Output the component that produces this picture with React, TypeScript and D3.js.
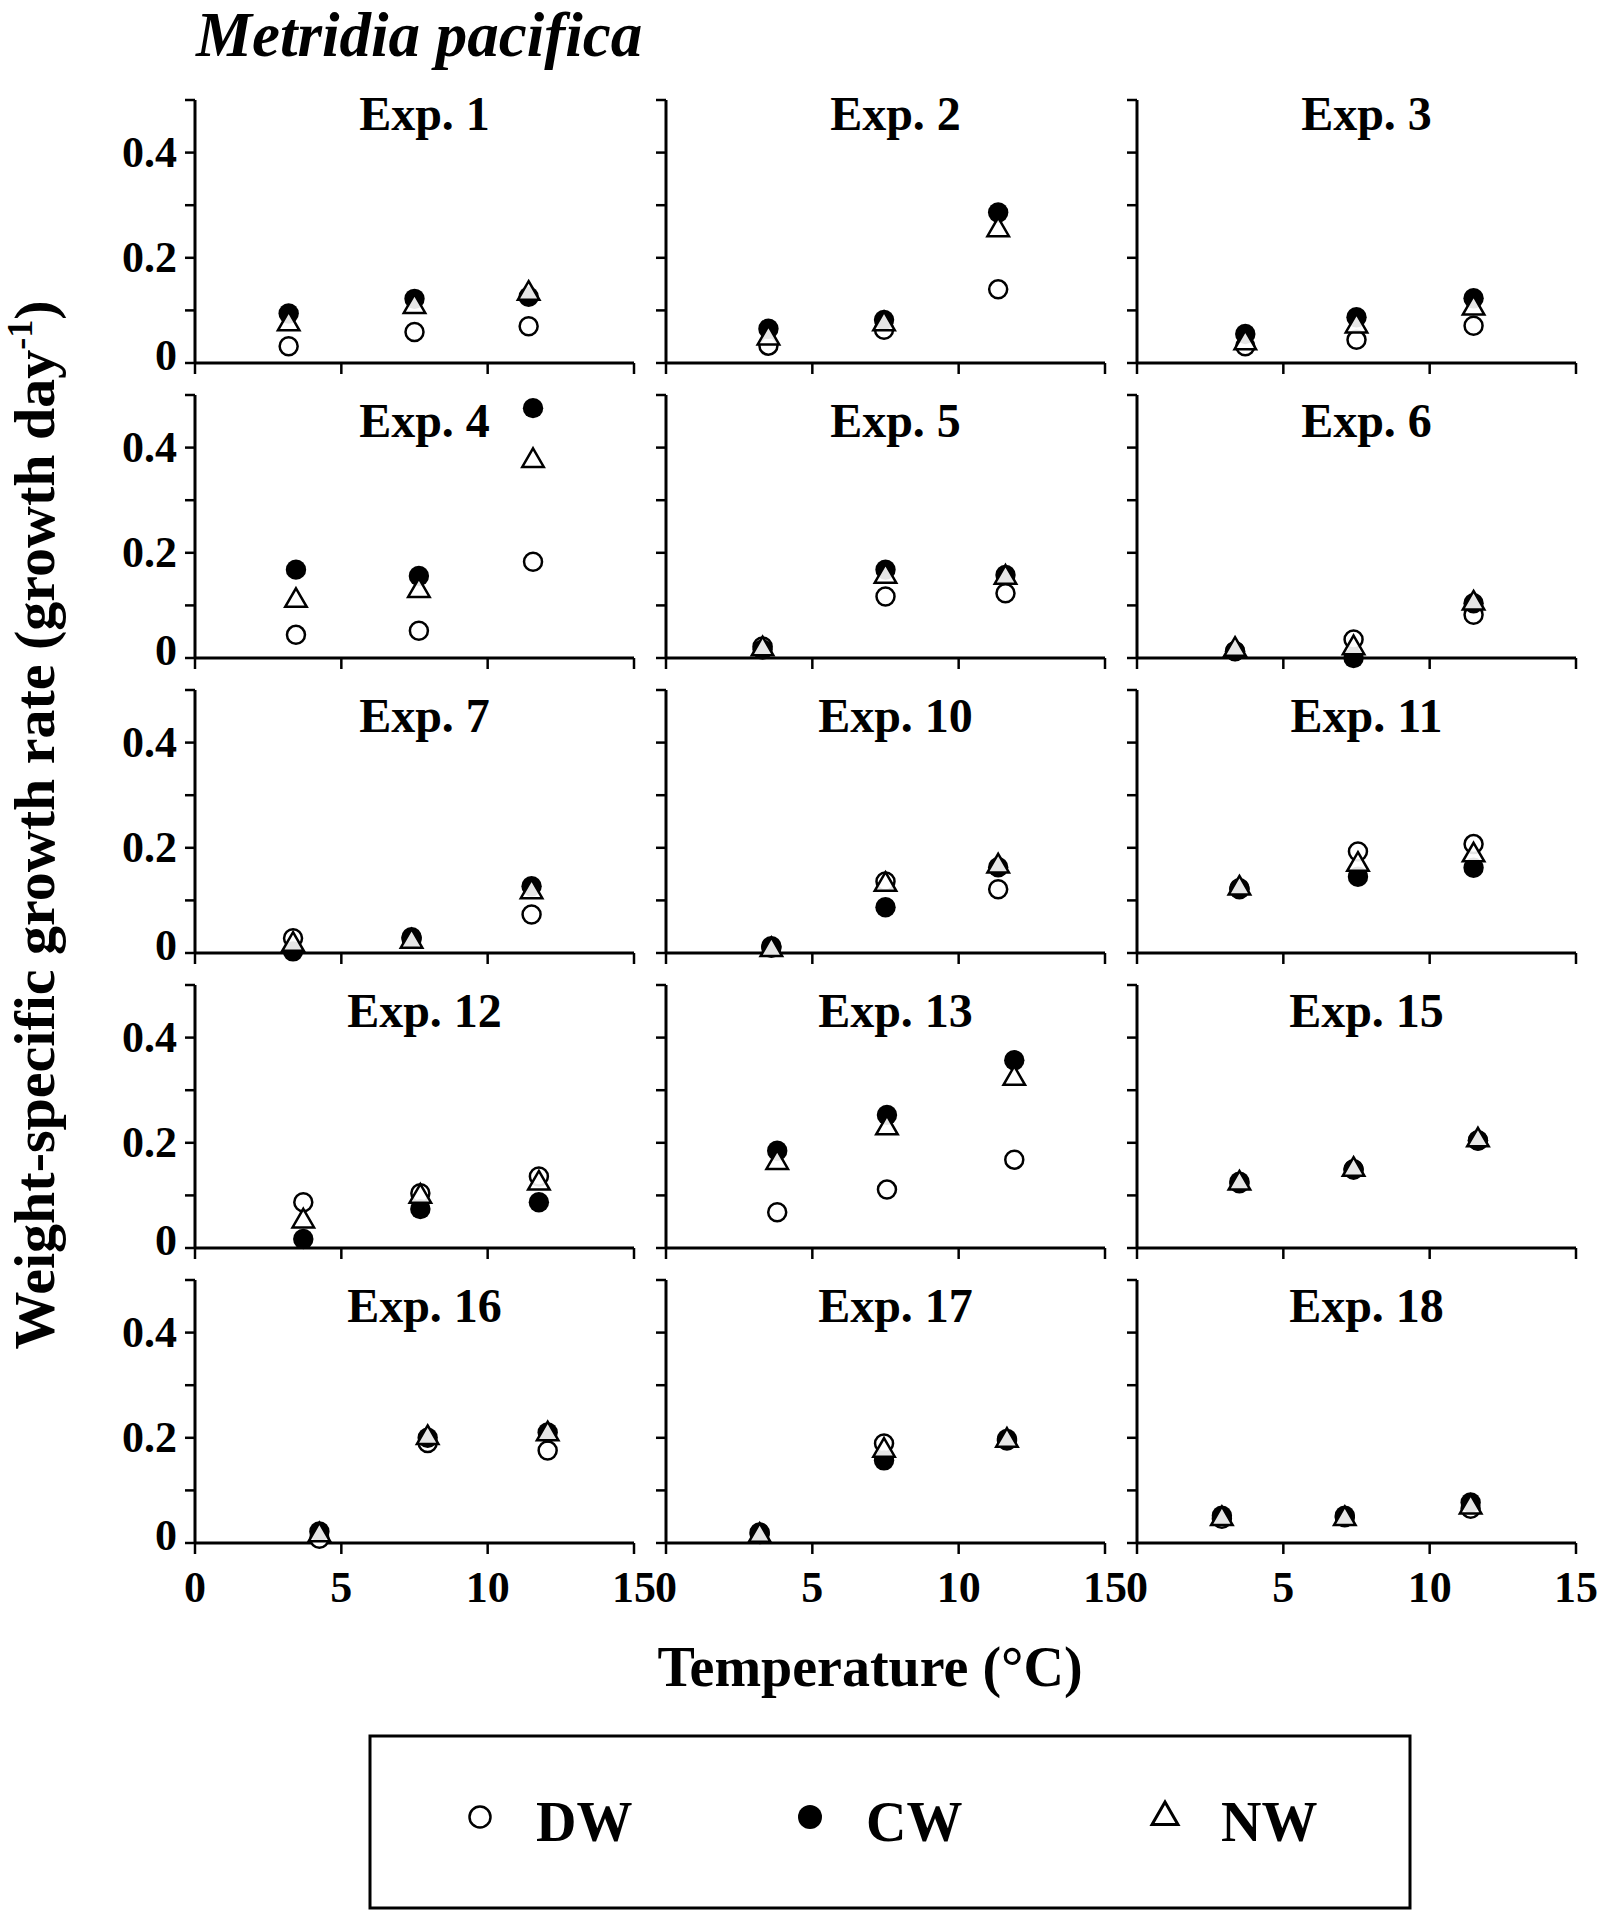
import React from "react"
import * as d3 from "d3"

const species = "Metridia pacifica"

const experiments = [
  "Exp. 1", "Exp. 2", "Exp. 3",
  "Exp. 4", "Exp. 5", "Exp. 6",
  "Exp. 7", "Exp. 10", "Exp. 11",
  "Exp. 12", "Exp. 13", "Exp. 15",
  "Exp. 16", "Exp. 17", "Exp. 18",
]

// temperature (°C) of each treatment, per experiment
const temperature = [
  [3.2, 7.5, 11.4], [3.5, 7.45, 11.35], [3.7, 7.5, 11.5],
  [3.45, 7.65, 11.55], [3.3, 7.5, 11.6], [3.35, 7.4, 11.5],
  [3.35, 7.4, 11.5], [3.6, 7.5, 11.35], [3.5, 7.55, 11.5],
  [3.7, 7.7, 11.75], [3.8, 7.55, 11.9], [3.5, 7.4, 11.65],
  [4.25, 7.95, 12.05], [3.2, 7.45, 11.65], [2.9, 7.1, 11.4],
]

const dw = [
  [0.032, 0.059, 0.07], [0.033, 0.063, 0.14], [0.032, 0.044, 0.071],
  [0.044, 0.052, 0.183], [0.022, 0.117, 0.123], [0.013, 0.035, 0.082],
  [0.028, 0.027, 0.073], [0.01, 0.136, 0.121], [0.123, 0.193, 0.207],
  [0.087, 0.104, 0.136], [0.068, 0.111, 0.168], [0.123, 0.149, 0.204],
  [0.008, 0.19, 0.176], [0.02, 0.189, 0.195], [0.046, 0.049, 0.065],
]

const cw = [
  [0.094, 0.122, 0.126], [0.065, 0.082, 0.286], [0.055, 0.087, 0.123],
  [0.168, 0.156, 0.475], [0.016, 0.168, 0.158], [0.013, 0.0, 0.104],
  [0.003, 0.03, 0.127], [0.013, 0.087, 0.163], [0.121, 0.145, 0.162],
  [0.017, 0.074, 0.087], [0.185, 0.253, 0.357], [0.126, 0.15, 0.205],
  [0.022, 0.2, 0.21], [0.017, 0.157, 0.198], [0.052, 0.052, 0.077],
]

const nw = [
  [0.074, 0.107, 0.132], [0.047, 0.074, 0.253], [0.038, 0.07, 0.104],
  [0.109, 0.128, 0.375], [0.017, 0.155, 0.153], [0.016, 0.019, 0.104],
  [0.016, 0.022, 0.116], [0.006, 0.13, 0.165], [0.123, 0.168, 0.186],
  [0.051, 0.098, 0.123], [0.162, 0.228, 0.322], [0.123, 0.149, 0.205],
  [0.015, 0.2, 0.207], [0.014, 0.176, 0.195], [0.046, 0.046, 0.068],
]

const xTicks = [0, 5, 10, 15]
const yTicks = [0, 0.1, 0.2, 0.3, 0.4, 0.5]
const yLabels = [0, 0.2, 0.4]
const legendItems = ["DW", "CW", "NW"]

const W = 1599
const H = 1910
const font = "'Liberation Serif', 'Times New Roman', serif"

const colX = [195, 666, 1137]
const panelW = 439
const rowZero = [363, 658, 953, 1248, 1543]
const panelH = 263

const triangle = d3.symbol().type(d3.symbolTriangle)

function Panel({ i }: { i: number }) {
  const col = i % 3
  const row = Math.floor(i / 3)
  const x0 = colX[col]
  const y0 = rowZero[row]
  const x = d3.scaleLinear().domain([0, 15]).range([x0, x0 + panelW])
  const y = d3.scaleLinear().domain([0, 0.5]).range([y0, y0 - panelH])
  const last = row === 4
  const T = temperature[i]

  return (
    <g>
      {/* axes */}
      <line x1={x(0)} x2={x(15)} y1={y(0)} y2={y(0)} stroke="#000" strokeWidth={3} />
      <line x1={x(0)} x2={x(0)} y1={y(0)} y2={y(0.5)} stroke="#000" strokeWidth={3} />
      {xTicks.map((t) => (
        <line key={"xt" + t} x1={x(t)} x2={x(t)} y1={y(0)} y2={y(0) + 11} stroke="#000" strokeWidth={2.5} />
      ))}
      {yTicks.map((t) => (
        <line key={"yt" + t} x1={x(0) - 10} x2={x(0)} y1={y(t)} y2={y(t)} stroke="#000" strokeWidth={2.5} />
      ))}
      {col === 0 &&
        yLabels.map((t) => (
          <text key={"yl" + t} x={x(0) - 18} y={y(t) + (t === 0 ? 7 : 14)} textAnchor="end"
            fontSize={44} fontWeight="bold" fontFamily={font}>
            {t === 0 ? "0" : d3.format(".1f")(t)}
          </text>
        ))}
      {last &&
        xTicks.map((t) => (
          <text key={"xl" + t} x={x(t)} y={y(0) + 59} textAnchor="middle"
            fontSize={44} fontWeight="bold" fontFamily={font}>
            {t}
          </text>
        ))}
      <text x={x(7.5) + 10} y={y(0.5) + (row === 0 ? 30 : 42)} textAnchor="middle"
        fontSize={48} fontWeight="bold" fontFamily={font}>
        {experiments[i]}
      </text>

      {/* markers */}
      {T.map((t, j) => (
        <circle key={"dw" + j} cx={x(t)} cy={y(dw[i][j])} r={9} fill="#fff" stroke="#000" strokeWidth={2.5} />
      ))}
      {T.map((t, j) => (
        <circle key={"cw" + j} cx={x(t)} cy={y(cw[i][j])} r={10.2} fill="#000" />
      ))}
      {T.map((t, j) => (
        <path key={"nw" + j} d={triangle.size(200)()!} transform={`translate(${x(t)},${y(nw[i][j])})`}
          fill="#fff" fillOpacity={0.9} stroke="#000" strokeWidth={2.5} />
      ))}
    </g>
  )
}

export default function App() {
  const legendX = [480, 810, 1165]
  const legendY = 1817

  return (
    <svg width={W} height={H} style={{ position: "absolute", left: 0, top: 0, background: "#fff" }}>
      <rect width={W} height={H} fill="#fff" />
      <text x={196} y={56} fontSize={63} fontWeight="bold" fontStyle="italic" fontFamily={font}>
        {species}
      </text>

      {experiments.map((_, i) => (
        <Panel key={i} i={i} />
      ))}

      <text x={870} y={1686} textAnchor="middle" fontSize={56} fontWeight="bold" fontFamily={font}>
        Temperature (°C)
      </text>
      <text transform="translate(54,825) rotate(-90)" textAnchor="middle" fontSize={58} fontWeight="bold" fontFamily={font}>
        Weight-specific growth rate (growth day
        <tspan fontSize={36} dy={-22}>-1</tspan>
        <tspan dy={22}>)</tspan>
      </text>

      {/* legend */}
      <rect x={370} y={1736} width={1040} height={172} fill="none" stroke="#000" strokeWidth={3} />
      {legendItems.map((name, k) => (
        <g key={name}>
          {k === 0 && <circle cx={legendX[k]} cy={legendY} r={10.5} fill="#fff" stroke="#000" strokeWidth={2.5} />}
          {k === 1 && <circle cx={legendX[k]} cy={legendY} r={12} fill="#000" />}
          {k === 2 && (
            <path d={triangle.size(290)()!} transform={`translate(${legendX[k]},${legendY})`}
              fill="#fff" stroke="#000" strokeWidth={3} />
          )}
          <text x={legendX[k] + 56} y={1841} fontSize={56} fontWeight="bold" fontFamily={font}>
            {name}
          </text>
        </g>
      ))}
    </svg>
  )
}
